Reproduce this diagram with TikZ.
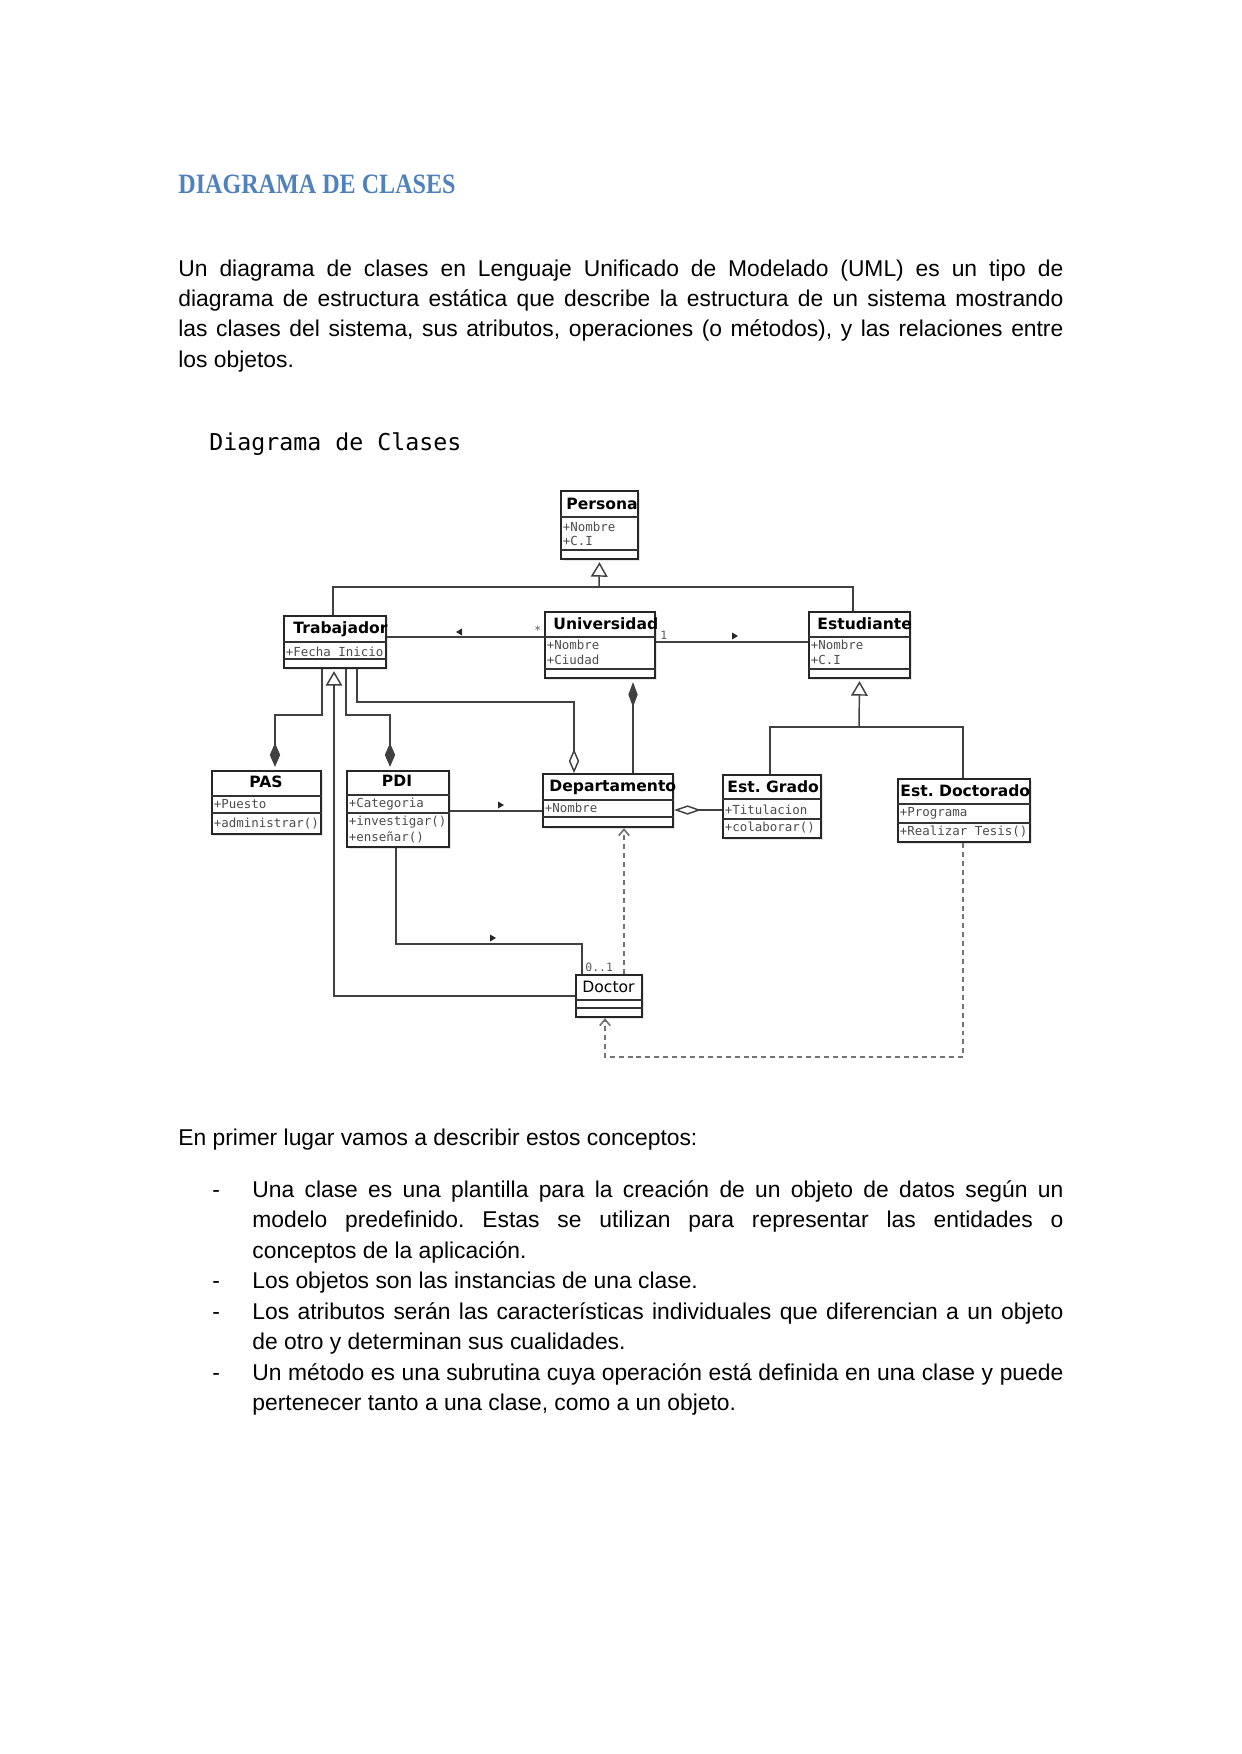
\documentclass[tikz,border=0pt]{standalone}
\usepackage{fontspec}
\setmainfont{Liberation Sans}
\newfontfamily\headfont{Liberation Serif}
\newfontfamily\classfont{DejaVu Sans}
\newfontfamily\attrfont{DejaVu Sans Mono}
\usetikzlibrary{arrows.meta,shadows}
\definecolor{headblue}{HTML}{4F81BD}
\newdimen\px \px=0.4818pt
\frenchspacing

\begin{document}
\begin{tikzpicture}[x=0.4818pt,y=-0.4818pt,
    body/.style={anchor=base west,inner sep=0pt,font=\fontsize{11}{13}\selectfont},
    classbox/.style 2 args={draw=black!85,line width=1pt,fill=white,anchor=north west,
      inner sep=0pt,minimum width=#1*0.4818pt,minimum height=#2*0.4818pt,
      drop shadow={shadow xshift=0.8pt,shadow yshift=-0.8pt,opacity=0.2}},
    classname/.style={anchor=west,inner sep=0pt,font=\classfont\bfseries\fontsize{7.5}{9}\selectfont},
    attr/.style={anchor=west,inner sep=0pt,font=\attrfont\fontsize{6}{7}\selectfont,text=black!70},
    mult/.style={anchor=west,inner sep=0pt,font=\attrfont\fontsize{5.5}{6}\selectfont,text=black!65},
    divider/.style={draw=black!80,line width=0.8pt},
    conn/.style={draw=black!75,line width=0.7pt},
    gen/.style={conn,-{Triangle[open,length=7pt,width=8pt]},shorten >=1pt},
    comp/.style={conn,-{Diamond[length=11.5pt,width=5pt]},shorten >=1.5pt},
    aggr/.style={conn,-{Diamond[open,length=11.5pt,width=5pt]}},
    dep/.style={draw=black!55,line width=0.8pt,dash pattern=on 2.4pt off 1.9pt,
      -{Straight Barb[length=3pt,width=5pt]}},
    navl/.pic={\fill[black!85] (-3,0) -- (3,-3.5) -- (3,3.5) -- cycle;},
    navr/.pic={\fill[black!85] (3,0) -- (-3,-3.5) -- (-3,3.5) -- cycle;}]

  \fill[white] (0,0) rectangle (1241,1754);
  \useasboundingbox (0,0) rectangle (1241,1754);

  % heading and introduction
  \node[anchor=base west,inner sep=0pt,text=headblue,
        font=\headfont\bfseries\fontsize{13.5}{16}\selectfont] (title) at (178,194) {\scalebox{0.86}[1]{DIAGRAMA DE CLASES}};
  \node[body] (intro1) at (178,277) {\makebox[885\px][s]{Un diagrama de clases en Lenguaje Unificado de Modelado (UML) es un tipo de}};
  \node[body] (intro2) at (178,307) {\makebox[885\px][s]{diagrama de estructura estática que describe la estructura de un sistema mostrando}};
  \node[body] (intro3) at (178,337) {\makebox[885\px][s]{las clases del sistema, sus atributos, operaciones (o métodos), y las relaciones entre}};
  \node[body] (intro4) at (178,367) {los objetos.};

  \node[anchor=base west,inner sep=0pt,font=\attrfont\fontsize{11.2}{13}\selectfont] (caption) at (209,450) {Diagrama de Clases};

  % classes
  \node[classbox={77}{68}]  (persona) at (560,490) {};
  \node[classbox={102}{52}] (trab)    at (283,615) {};
  \node[classbox={110}{66}] (univ)    at (544,611) {};
  \node[classbox={101}{66}] (estu)    at (808,611) {};
  \node[classbox={109}{63}] (pas)     at (211,770) {};
  \node[classbox={102}{76}] (pdi)     at (346,770) {};
  \node[classbox={130}{53}] (depto)   at (542,773) {};
  \node[classbox={98}{63}]  (grado)   at (722,774) {};
  \node[classbox={132}{63}] (doct)    at (897,778) {};
  \node[classbox={66}{42}]  (doctor)  at (575,974) {};

  \foreach \n/\y in {persona/517,persona/550,trab/642,trab/659,univ/637,univ/669,
                     estu/637,estu/669,pas/796,pas/813,pdi/795,pdi/813,depto/800,depto/817,
                     grado/799,grado/819,doct/804,doct/823,doctor/1000,doctor/1008}
    \draw[divider] (\n.west |- 0,\y) -- (\n.east |- 0,\y);

  \node[classname] (persona-t) at (566,504) {Persona};
  \node[classname] (trab-t)    at (293,629) {Trabajador};
  \node[classname] (univ-t)    at (553,624) {Universidad};
  \node[classname] (estu-t)    at (817,624) {Estudiante};
  \node[classname,anchor=center] (pas-t) at (266,782) {PAS};
  \node[classname,anchor=center] (pdi-t) at (397,781) {PDI};
  \node[classname] (depto-t)   at (549,787) {Departamento};
  \node[classname] (grado-t)   at (727,787) {Est. Grado};
  \node[classname] (doct-t)    at (900,791) {Est. Doctorado};
  \node[classname,font=\classfont\fontsize{7.5}{9}\selectfont] (doctor-t) at (582,987) {Doctor};

  \foreach \id/\x/\y/\t in {persona-a1/562.5/527/+Nombre,persona-a2/562.5/541/+C.I,
      trab-a1/285.5/652/+Fecha Inicio,univ-a1/546.5/645/+Nombre,univ-a2/546.5/660/+Ciudad,
      estu-a1/810.5/645/+Nombre,estu-a2/810.5/660/+C.I,
      pas-a1/213.5/804/+Puesto,pas-o1/213.5/824/+administrar(),
      pdi-a1/348.5/804/+Categoria,pdi-o1/348.5/822/+investigar(),pdi-o2/348.5/837/+enseñar(),
      depto-a1/544.5/808/+Nombre,grado-a1/724.5/810/+Titulacion,grado-o1/724.5/828/+colaborar(),
      doct-a1/899.5/813/+Programa,doct-o1/899.5/832/+Realizar Tesis()}
    \node[attr] (\id) at (\x,\y) {\t};

  % relations
  \coordinate (bar1) at (599,587);
  \draw[conn] (trab.north -| 333,0) |- (bar1) -| (estu.north -| 853,0);
  \draw[gen] (bar1) -- (persona.south);

  \draw[conn] (trab.east |- 0,637) -- (univ.west |- 0,637);
  \draw[conn] (univ.east |- 0,642) -- (estu.west |- 0,642);
  \draw[conn,{Diamond[length=12pt,width=4.5pt]}-,shorten <=1.5pt] (univ.south -| 633,0) -- (depto.north -| 633,0);
  \draw[aggr] (trab.south -| 357,0) -- (357,702) -| (depto.north -| 574,0);
  \draw[comp] (trab.south -| 322,0) -- (322,715) -| (pas.north -| 275,0);
  \draw[comp] (trab.south -| 346,0) -- (346,715) -| (pdi.north -| 390,0);
  \draw[gen] (doctor.west |- 0,996) -| (trab.south -| 334,0);
  \draw[conn] (pdi.east |- 0,811) -- (depto.west |- 0,811);
  \draw[conn] (pdi.south -| 396,0) |- (582,944) -- (doctor.north -| 582,0);
  \draw[conn,{Diamond[open,length=13pt,width=4.5pt]}-] (depto.east |- 0,810) -- (grado.west |- 0,810);

  \coordinate (bar2) at (859,727);
  \draw[conn] (grado.north -| 770,0) |- (bar2) -| (doct.north -| 963,0);
  \draw[gen] (bar2) -- (estu.south);

  \draw[dep] (doctor.north -| 624,0) -- (depto.south -| 624,0);
  \draw[dep] (doct.south -| 963,0) |- (605,1057) -- (doctor.south -| 605,0);

  \node[mult] (m-univ) at (534,630) {*};
  \node[mult] (m-univ2) at (660,635) {1};
  \node[mult] (m-doctor) at (585,967) {0..1};
  \pic at (459,632) {navl};
  \pic at (735,636) {navr};
  \pic at (501,805) {navr};
  \pic at (493,938) {navr};

  % concepts
  \node[body] (lead) at (178,1145.5) {En primer lugar vamos a describir estos conceptos:};
  \node[body] (dash1) at (212,1197) {-};
  \node[body] (item1a) at (252,1197) {\makebox[811\px][s]{Una clase es una plantilla para la creación de un objeto de datos según un}};
  \node[body] (item1b) at (252,1227.5) {\makebox[811\px][s]{modelo predefinido. Estas se utilizan para representar las entidades o}};
  \node[body] (item1c) at (252,1258) {conceptos de la aplicación.};
  \node[body] (dash2) at (212,1288.5) {-};
  \node[body] (item2a) at (252,1288.5) {Los objetos son las instancias de una clase.};
  \node[body] (dash3) at (212,1319) {-};
  \node[body] (item3a) at (252,1319) {\makebox[811\px][s]{Los atributos serán las características individuales que diferencian a un objeto}};
  \node[body] (item3b) at (252,1349.5) {de otro y determinan sus cualidades.};
  \node[body] (dash4) at (212,1380) {-};
  \node[body] (item4a) at (252,1380) {\makebox[811\px][s]{Un método es una subrutina cuya operación está definida en una clase y puede}};
  \node[body] (item4b) at (252,1410.5) {pertenecer tanto a una clase, como a un objeto.};
\end{tikzpicture}
\end{document}
